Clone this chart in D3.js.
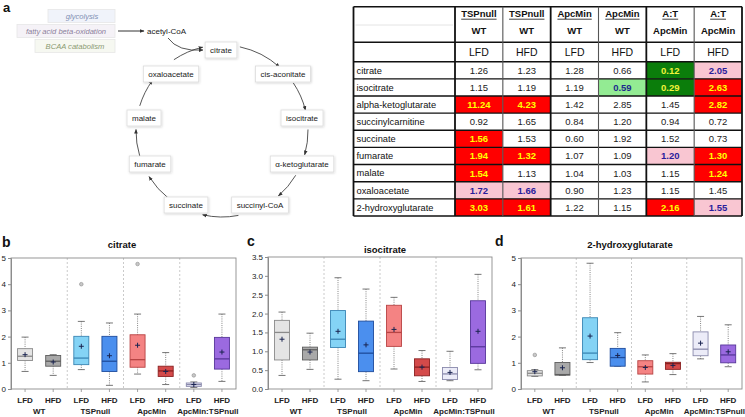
<!DOCTYPE html>
<html><head><meta charset="utf-8">
<script src="https://cdn.jsdelivr.net/npm/d3@7"></script>
<style>body{margin:0;background:#fff}svg{display:block;font-family:Arial,"Liberation Sans",sans-serif}</style>
</head><body>
<svg id="c" width="745" height="417"></svg>
<script>
// ---------------- DATA ----------------
const groups = ["WT", "TSPnull", "ApcMin", "ApcMin:TSPnull"];
const diets = ["LFD", "HFD"];
// each box: [whiskerLow, q1, median, q3, whiskerHigh, mean]
const citrateBoxes = [
  [0.67, 1.09, 1.25, 1.54, 1.98, 1.31], [0.52, 0.87, 1.06, 1.28, 1.31, 1.03],
  [0.74, 0.93, 1.18, 2.01, 2.58, 1.63], [0.14, 0.67, 1.06, 2.01, 2.52, 1.27],
  [0.57, 0.83, 1.12, 2.07, 2.86, 1.67], [0.17, 0.48, 0.69, 0.87, 1.39, 0.67],
  [0.06, 0.10, 0.17, 0.23, 0.27, 0.17], [0.29, 0.76, 1.15, 1.97, 2.86, 1.41]
];
const citrateOutliers = [[], [], [4.0], [], [4.77], [], [0.52], []];
const isocitrateBoxes = [
  [0.36, 0.77, 1.50, 1.82, 2.04, 1.32], [0.52, 0.77, 1.04, 1.11, 1.48, 0.98],
  [0.26, 1.10, 1.32, 2.08, 2.95, 1.53], [0.22, 0.46, 0.95, 1.80, 2.65, 1.17],
  [0.53, 1.13, 1.50, 2.22, 2.43, 1.58], [0.20, 0.35, 0.58, 0.80, 1.02, 0.58],
  [0.22, 0.25, 0.40, 0.57, 1.00, 0.44], [0.51, 0.68, 1.12, 2.34, 3.04, 1.53]
];
const isocitrateOutliers = [[], [], [], [], [], [], [], []];
const hgBoxes = [
  [0.48, 0.50, 0.60, 0.70, 0.74, 0.66], [0.52, 0.53, 0.55, 1.01, 1.57, 0.81],
  [1.01, 1.12, 1.37, 2.72, 4.80, 2.02], [0.87, 0.87, 1.20, 1.55, 2.15, 1.28],
  [0.27, 0.57, 0.85, 1.08, 1.30, 0.82], [0.55, 0.75, 0.97, 1.02, 1.35, 0.90],
  [1.15, 1.27, 1.52, 2.18, 2.77, 1.75], [0.85, 1.00, 1.30, 1.68, 2.45, 1.42]
];
const hgOutliers = [[1.3], [], [], [], [], [], [], []];
const ticks5 = [0, 1, 2, 3, 4, 5];
const ticks35 = [0, 0.5, 1, 1.5, 2, 2.5, 3, 3.5];

// table
const tableRows = ["citrate", "isocitrate", "alpha-ketoglutarate", "succinylcarnitine", "succinate",
  "fumarate", "malate", "oxaloacetate", "2-hydroxyglutarate"];
const headerTop = ["TSPnull", "TSPnull", "ApcMin", "ApcMin", "A:T", "A:T"];
const headerBottom = ["WT", "WT", "WT", "WT", "ApcMin", "ApcMin"];
const headerDiet = ["LFD", "HFD", "LFD", "HFD", "LFD", "HFD"];
const tableValues = [
  [1.26, 1.23, 1.28, 0.66, 0.12, 2.05],
  [1.15, 1.19, 1.19, 0.59, 0.29, 2.63],
  [11.24, 4.23, 1.42, 2.85, 1.45, 2.82],
  [0.92, 1.65, 0.84, 1.20, 0.94, 0.72],
  [1.56, 1.53, 0.60, 1.92, 1.52, 0.73],
  [1.94, 1.32, 1.07, 1.09, 1.20, 1.30],
  [1.54, 1.13, 1.04, 1.03, 1.15, 1.24],
  [1.72, 1.66, 0.90, 1.23, 1.15, 1.45],
  [3.03, 1.61, 1.22, 1.15, 2.16, 1.55]
];
// R = up p<=0.05, P = up 0.05<p<0.10, G = down p<=0.05, L = down 0.05<p<0.10
const tableSig = [
  ["", "", "", "", "G", "P"],
  ["", "", "", "L", "G", "R"],
  ["R", "R", "", "", "", "R"],
  ["", "", "", "", "", ""],
  ["R", "", "", "", "", ""],
  ["R", "R", "", "", "P", "R"],
  ["R", "", "", "", "", "R"],
  ["P", "P", "", "", "", ""],
  ["R", "R", "", "", "R", "P"]
];

// TCA diagram
const cycleNodes = ["citrate", "cis-aconitate", "isocitrate", "α-ketoglutarate", "succinyl-CoA",
  "succinate", "fumarate", "malate", "oxaloacetate"];
const inputPathways = ["glycolysis", "fatty acid beta-oxidation", "BCAA catabolism"];

// ---------------- LAYOUT / STYLE ----------------
const svg = d3.select("#c");
const boxFill = ["#e4e4e4", "#a9a9a9", "#84d3f5", "#4b8fee", "#f48383", "#d44a4a", "#ececf8", "#9b6ae0"];
const boxStroke = ["#8a8a8a", "#5e5e5e", "#3a86b4", "#1e4c9c", "#b84444", "#8a2020", "#8a8aac", "#57379a"];

// ---- panel letters
function letter(t, x, y, fs) {
  svg.append("text").attr("x", x).attr("y", y).text(t)
    .attr("font-size", fs || 14).attr("font-weight", "bold").attr("fill", "#111");
}
letter("a", 3, 12, 13);
letter("b", 2, 247);
letter("c", 247, 246);
letter("d", 495, 246);

// ---- TCA cycle diagram
const nodePos = {
  "citrate": [221, 50], "cis-aconitate": [283, 74], "isocitrate": [302, 118],
  "α-ketoglutarate": [302, 164], "succinyl-CoA": [260, 205], "succinate": [186, 205],
  "fumarate": [150, 164], "malate": [144, 118], "oxaloacetate": [171, 74]
};
const cyc = { cx: 222, cy: 131, r: 86 };
const linkAngles = [[-78, -48], [-34, -14], [-1, 16], [31, 49], [79, 103], [128, 148], [163, 181], [197, 216], [236, 257]];

const defs = svg.append("defs");
defs.append("marker").attr("id", "ah").attr("viewBox", "0 0 10 10").attr("refX", 9).attr("refY", 5)
  .attr("markerWidth", 5).attr("markerHeight", 5).attr("orient", "auto")
  .append("path").attr("d", "M0,1 L10,5 L0,9 z").attr("fill", "#333");
const fl = defs.append("filter").attr("id", "sh").attr("x", "-20%").attr("y", "-30%").attr("width", "140%").attr("height", "160%");
fl.append("feDropShadow").attr("dx", 0.6).attr("dy", 0.8).attr("stdDeviation", 0.8).attr("flood-color", "#000").attr("flood-opacity", 0.18);

const rad = a => a * Math.PI / 180;
const dia = svg.append("g");
linkAngles.forEach(([a0, a1]) => {
  const x0 = cyc.cx + cyc.r * Math.cos(rad(a0)), y0 = cyc.cy + cyc.r * Math.sin(rad(a0));
  const x1 = cyc.cx + cyc.r * Math.cos(rad(a1)), y1 = cyc.cy + cyc.r * Math.sin(rad(a1));
  dia.append("path").attr("d", `M${x0},${y0} A${cyc.r},${cyc.r} 0 0 1 ${x1},${y1}`)
    .attr("fill", "none").attr("stroke", "#444").attr("stroke-width", 0.9).attr("marker-end", "url(#ah)");
});
cycleNodes.forEach(n => {
  const [x, y] = nodePos[n];
  const g = dia.append("g").attr("transform", `translate(${x},${y})`);
  const t = g.append("text").text(n).attr("text-anchor", "middle").attr("dy", "0.35em")
    .attr("font-size", 8).attr("fill", "#222");
  const w = t.node().getComputedTextLength() + 10;
  g.insert("rect", "text").attr("x", -w / 2).attr("y", -8).attr("width", w).attr("height", 16)
    .attr("fill", "#fff").attr("stroke", "#dcdcdc").attr("stroke-width", 0.8).attr("filter", "url(#sh)");
});
// acetyl-CoA
dia.append("text").attr("x", 147).attr("y", 31).attr("dy", "0.35em").text("acetyl-CoA")
  .attr("font-size", 8).attr("fill", "#222");
dia.append("path").attr("d", "M168,38 Q178,52 203,50").attr("fill", "none").attr("stroke", "#444")
  .attr("stroke-width", 0.9).attr("marker-end", "url(#ah)");
dia.append("path").attr("d", "M118,31 L144,31").attr("fill", "none").attr("stroke", "#333")
  .attr("stroke-width", 1).attr("marker-end", "url(#ah)");
// input pathways
const inBoxes = [
  { x0: 48, y: 16, tx: 82, c: "#7f8fb3", bg: "#e4eaf6" },
  { x0: 17, y: 31, tx: 66, c: "#8c7f9c", bg: "#ece8f1" },
  { x0: 35, y: 46, tx: 75, c: "#8a9a72", bg: "#eef2e6" }
];
inputPathways.forEach((p, i) => {
  const b = inBoxes[i];
  const g = dia.append("g");
  g.append("rect").attr("x", b.x0).attr("y", b.y - 6.5).attr("width", 115 - b.x0).attr("height", 13)
    .attr("fill", b.bg).attr("fill-opacity", 0.55).attr("stroke", "#e6e6e6").attr("stroke-width", 0.8);
  g.append("text").attr("x", b.tx).attr("y", b.y).attr("dy", "0.35em").text(p)
    .attr("font-size", 7.6).attr("font-style", "italic").attr("fill", b.c).attr("text-anchor", "middle");
});

// ---- TABLE
const tb = svg.append("g");
const tX0 = 353.5, tXlab = 455, tX1 = 742;
const tY0 = 6.7, tYh1 = 42.3, tYh2 = 61.7, tY1 = 216;
const colX = d3.scaleBand().domain(d3.range(headerTop.length)).range([tXlab, tX1]);
const rowY = d3.scaleBand().domain(d3.range(tableRows.length)).range([tYh2, tY1]);
const sigFill = { R: "#ff0000", P: "#f9c6d2", G: "#0b7d0b", L: "#93eb93", "": "#ffffff" };
const sigText = { R: "#ffff00", P: "#2a1c9c", G: "#f2f23a", L: "#1c2a8c", "": "#222" };

tableValues.forEach((row, ri) => {
  row.forEach((v, ci) => {
    const s = tableSig[ri][ci];
    tb.append("rect").attr("x", colX(ci)).attr("y", rowY(ri)).attr("width", colX.bandwidth())
      .attr("height", rowY.bandwidth()).attr("fill", sigFill[s]);
    tb.append("text").attr("x", colX(ci) + colX.bandwidth() / 2).attr("y", rowY(ri) + rowY.bandwidth() / 2)
      .attr("dy", "0.36em").attr("text-anchor", "middle").text(v.toFixed(2))
      .attr("font-size", 9.5).attr("font-weight", s ? "bold" : "normal").attr("fill", sigText[s]);
  });
  tb.append("text").attr("x", tX0 + 3).attr("y", rowY(ri) + rowY.bandwidth() / 2).attr("dy", "0.36em")
    .text(tableRows[ri]).attr("font-size", 9.3).attr("fill", "#111");
});
headerTop.forEach((h, ci) => {
  const cx = colX(ci) + colX.bandwidth() / 2;
  const t = tb.append("text").attr("x", cx).attr("y", 17).attr("text-anchor", "middle").text(h)
    .attr("font-size", 9.5).attr("font-weight", "bold").attr("fill", "#111");
  const w = t.node().getComputedTextLength();
  tb.append("line").attr("x1", cx - w / 2).attr("x2", cx + w / 2).attr("y1", 19.2).attr("y2", 19.2)
    .attr("stroke", "#111").attr("stroke-width", 0.8);
  tb.append("text").attr("x", cx).attr("y", 31).attr("dy", "0.35em").attr("text-anchor", "middle")
    .text(headerBottom[ci]).attr("font-size", 9.5).attr("font-weight", "bold").attr("fill", "#111");
  tb.append("text").attr("x", cx).attr("y", 52.3).attr("dy", "0.36em").attr("text-anchor", "middle")
    .text(headerDiet[ci]).attr("font-size", 10.5).attr("fill", "#111");
});
// faint line in header label cell
tb.append("line").attr("x1", tX0 + 2).attr("x2", tXlab - 2).attr("y1", 25).attr("y2", 25)
  .attr("stroke", "#ddd").attr("stroke-width", 0.8);
// grid
const hLines = [tY0, tYh1, tYh2].concat(d3.range(1, tableRows.length).map(i => rowY(i)), [tY1]);
hLines.forEach(y => tb.append("line").attr("x1", tX0).attr("x2", tX1).attr("y1", y).attr("y2", y)
  .attr("stroke", "#111").attr("stroke-width", 1.4));
[tX0, tXlab].concat(d3.range(1, headerTop.length).map(i => colX(i)), [tX1]).forEach((x, i) => {
  const major = (i === 0 || i === 1 || i === 3 || i === 5 || i === 7);
  tb.append("line").attr("x1", x).attr("x2", x).attr("y1", tY0).attr("y2", tY1)
    .attr("stroke", major ? "#111" : "#555").attr("stroke-width", major ? 1.8 : 1.1);
});

// ---- BOX PLOTS
function panel(cfg, boxes, outliers) {
  const g = svg.append("g");
  const y = d3.scaleLinear().domain(cfg.domain).range([cfg.y1, cfg.y0]);
  const xg = d3.scaleBand().domain(groups).range([cfg.x0, cfg.x1]);
  const xd = d3.scaleBand().domain(diets).range([0, xg.bandwidth()]);
  const cxOf = i => xg(groups[Math.floor(i / 2)]) + xd(diets[i % 2]) + xd.bandwidth() / 2;
  const bw = 15;
  groups.slice(1).forEach(gr => g.append("line").attr("x1", xg(gr)).attr("x2", xg(gr))
    .attr("y1", cfg.y0).attr("y2", cfg.y1).attr("stroke", "#bdbdbd").attr("stroke-width", 0.8)
    .attr("stroke-dasharray", "2,2"));
  g.append("rect").attr("x", cfg.x0).attr("y", cfg.y0).attr("width", cfg.x1 - cfg.x0)
    .attr("height", cfg.y1 - cfg.y0).attr("fill", "none").attr("stroke", "#8c8c8c").attr("stroke-width", 0.9);
  const ya = g.append("g").attr("transform", `translate(${cfg.x0},0)`)
    .call(d3.axisLeft(y).tickValues(cfg.ticks).tickFormat(cfg.fmt).tickSize(3).tickPadding(2));
  ya.select(".domain").attr("stroke", "#8c8c8c");
  ya.selectAll(".tick line").attr("stroke", "#8c8c8c");
  ya.selectAll("text").attr("font-size", 8).attr("font-family", "Arial").attr("fill", "#222");
  boxes.forEach((b, i) => {
    const cx = cxOf(i);
    const [lo, q1, md, q3, hi, mn] = b;
    const bx = g.append("g");
    bx.append("line").attr("x1", cx).attr("x2", cx).attr("y1", y(hi)).attr("y2", y(q3))
      .attr("stroke", "#777").attr("stroke-width", 0.9).attr("stroke-dasharray", "1,1.2");
    bx.append("line").attr("x1", cx).attr("x2", cx).attr("y1", y(q1)).attr("y2", y(lo))
      .attr("stroke", "#777").attr("stroke-width", 0.9).attr("stroke-dasharray", "1,1.2");
    [lo, hi].forEach(v => bx.append("line").attr("x1", cx - 3.5).attr("x2", cx + 3.5)
      .attr("y1", y(v)).attr("y2", y(v)).attr("stroke", "#666").attr("stroke-width", 0.9));
    bx.append("rect").attr("x", cx - bw / 2).attr("y", y(q3)).attr("width", bw)
      .attr("height", Math.max(0.5, y(q1) - y(q3))).attr("fill", boxFill[i])
      .attr("stroke", boxStroke[i]).attr("stroke-width", 0.9);
    bx.append("line").attr("x1", cx - bw / 2).attr("x2", cx + bw / 2).attr("y1", y(md)).attr("y2", y(md))
      .attr("stroke", boxStroke[i]).attr("stroke-width", 1.3);
    bx.append("path").attr("d", `M${cx - 2.5},${y(mn)}h5M${cx},${y(mn) - 2.5}v5`)
      .attr("stroke", "#1a2450").attr("stroke-width", 1);
    outliers[i].forEach(o => bx.append("circle").attr("cx", cx).attr("cy", y(o)).attr("r", 1.8)
      .attr("fill", "#c8c8c8").attr("stroke", "#8a8a8a").attr("stroke-width", 0.6));
    g.append("line").attr("x1", cx).attr("x2", cx).attr("y1", cfg.y1).attr("y2", cfg.y1 + 3)
      .attr("stroke", "#8c8c8c").attr("stroke-width", 0.8);
    g.append("text").attr("x", cx).attr("y", 403).attr("text-anchor", "middle").text(diets[i % 2])
      .attr("font-size", 8).attr("font-weight", "bold").attr("fill", "#222");
  });
  groups.forEach(gr => g.append("text").attr("x", xg(gr) + xg.bandwidth() / 2).attr("y", 414)
    .attr("text-anchor", "middle").text(gr).attr("font-size", 8).attr("font-weight", "bold").attr("fill", "#222"));
  g.append("text").attr("x", cfg.tx).attr("y", cfg.ty).attr("text-anchor", "middle").text(cfg.title)
    .attr("font-size", 9.5).attr("font-weight", "bold").attr("fill", "#111");
}
panel({ x0: 11, x1: 236, y0: 258, y1: 389, domain: [0, 5], ticks: ticks5, fmt: d3.format("d"),
  title: "citrate", tx: 122, ty: 248 }, citrateBoxes, citrateOutliers);
panel({ x0: 268, x1: 492, y0: 257, y1: 389, domain: [0, 3.5], ticks: ticks35, fmt: d3.format(".1f"),
  title: "isocitrate", tx: 385, ty: 253 }, isocitrateBoxes, isocitrateOutliers);
panel({ x0: 521, x1: 742, y0: 258, y1: 389, domain: [0, 5], ticks: ticks5, fmt: d3.format("d"),
  title: "2-hydroxyglutarate", tx: 630, ty: 248 }, hgBoxes, hgOutliers);
</script>
</body></html>
